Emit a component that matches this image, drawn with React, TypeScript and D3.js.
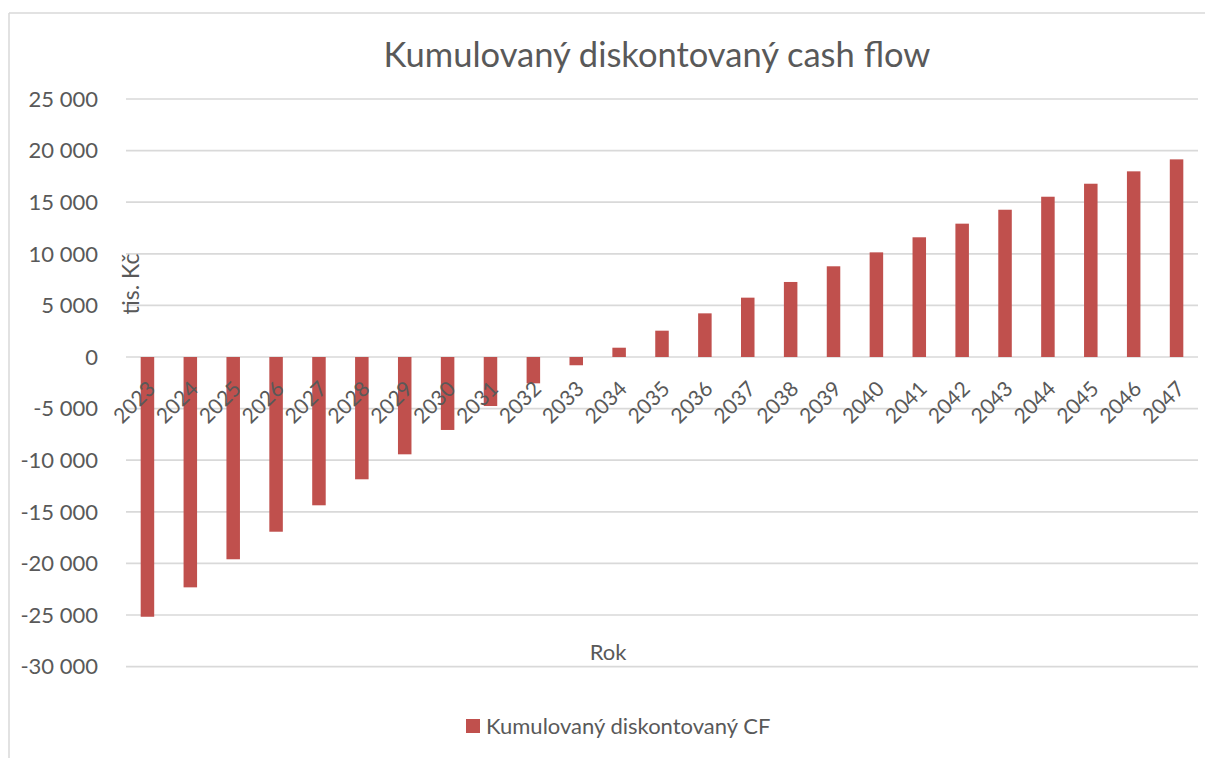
import React from "react";
import * as d3 from "d3";

const years = ["2023","2024","2025","2026","2027","2028","2029","2030","2031","2032","2033","2034","2035","2036","2037","2038","2039","2040","2041","2042","2043","2044","2045","2046","2047"];
const values = [-25170,-22320,-19600,-16930,-14370,-11850,-9430,-7070,-4750,-2550,-800,900,2550,4230,5750,7270,8790,10140,11600,12920,14270,15530,16790,17990,19150];
const yTicks = [25000,20000,15000,10000,5000,0,-5000,-10000,-15000,-20000,-25000,-30000];
const title = "Kumulovaný diskontovaný cash flow";
const yTitle = "tis. Kč";
const xTitle = "Rok";
const seriesName = "Kumulovaný diskontovaný CF";

const W = 1205, H = 758;
const FONT = "Lato, 'Open Sans', sans-serif";
const TXT = "#595959";
const GRID = "#d9d9d9";
const BAR = "#c0504d";

const locale = d3.formatLocale({ decimal: ",", thousands: " ", grouping: [3], currency: ["", ""], minus: "-" });
const fmt = locale.format(",");

export default function App() {
  const x = d3.scaleBand<string>().domain(years).range([126, 1198]).paddingInner(0.685).paddingOuter(0.3425);
  const y = d3.scaleLinear().domain([-30000, 25000]).range([666.6, 99]);
  return (
    <svg width={W} height={H} style={{ position: "absolute", left: 0, top: 0, background: "#fff" }} fontFamily={FONT}>
      <rect x={0} y={0} width={W} height={H} fill="#fff" />
      <line x1={9} y1={13} x2={W} y2={13} stroke={GRID} strokeWidth={1.5} />
      <line x1={9} y1={13} x2={9} y2={H} stroke={GRID} strokeWidth={1.5} />
      <text x={657} y={67} textAnchor="middle" fontSize={34.5} fill={TXT}>{title}</text>
      {yTicks.map((t) => (
        <g key={t}>
          <line x1={126} x2={1198} y1={y(t)} y2={y(t)} stroke={GRID} strokeWidth={1.7} />
          <text x={98} y={y(t)} dy="0.35em" textAnchor="end" fontSize={22} fill={TXT}>{fmt(t)}</text>
        </g>
      ))}
      {years.map((yr, i) => {
        const v = values[i];
        return (
          <rect key={yr} x={x(yr)} width={x.bandwidth()} y={Math.min(y(v), y(0))} height={Math.abs(y(v) - y(0))} fill={BAR} />
        );
      })}
      {years.map((yr) => {
        const cx = (x(yr) as number) + x.bandwidth() / 2 + 4;
        const cy = 385;
        return (
          <text key={yr} transform={`translate(${cx},${cy}) rotate(-45)`} textAnchor="end" dy="0.35em" fontSize={21} fill={TXT}>{yr}</text>
        );
      })}
      <text transform={`translate(139,284) rotate(-90)`} textAnchor="middle" fontSize={23} fill={TXT}>{yTitle}</text>
      <text x={608} y={660} textAnchor="middle" fontSize={22} fill={TXT}>{xTitle}</text>
      <rect x={466} y={719} width={14} height={14} fill={BAR} />
      <text x={486} y={734} fontSize={22} fill={TXT}>{seriesName}</text>
    </svg>
  );
}
